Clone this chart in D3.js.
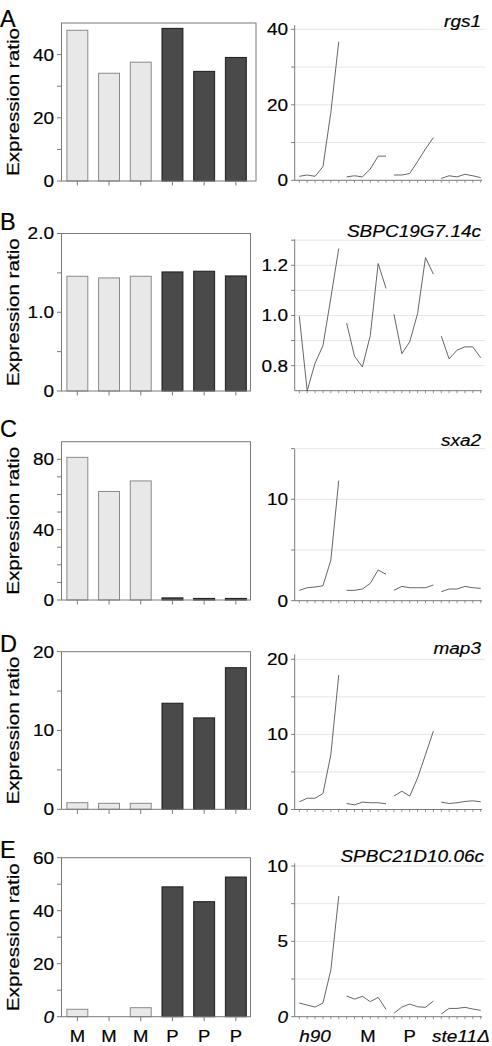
<!DOCTYPE html>
<html><head><meta charset="utf-8">
<script src="https://cdn.jsdelivr.net/npm/d3@7"></script>
<style>
html,body{margin:0;padding:0;background:#fff;}
svg{display:block;font-family:"Liberation Sans",Arial,sans-serif;}
svg text{fill:#000;stroke:#000;stroke-width:0.2px;}
</style></head>
<body>
<svg id="chart" width="492" height="1046"></svg>
<script>
// ---------- data ----------
const barCategories = ["M","M","M","P","P","P"];
const barA = [47.7, 34.1, 37.6, 48.3, 34.7, 39.1];
const barB = [1.457, 1.436, 1.457, 1.512, 1.521, 1.461];
const barC = [81.1, 61.7, 67.7, 1.2, 0.9, 0.9];
const barD = [0.84, 0.76, 0.76, 13.46, 11.6, 17.97];
const barE = [2.8, 0, 3.4, 49.0, 43.4, 52.7];

const lineGroups = ["h90","M","P","ste11Δ"];
const lineA = [1.06,1.4,1.06,3.6,18,36.7, 0.9,1.2,0.9,3.0,6.4,6.4, 1.4,1.4,1.8,5.0,8.3,11.3, 0.5,1.2,0.9,1.6,1.2,0.7];
const lineB = [0.997,0.70,0.81,0.88,1.07,1.267, 0.97,0.838,0.795,0.92,1.207,1.108, 1.005,0.848,0.895,1.008,1.231,1.165, 0.918,0.827,0.862,0.875,0.875,0.832];
const lineC = [1.02,1.28,1.35,1.48,4.0,11.84, 1.02,1.02,1.15,1.71,3.03,2.6, 1.02,1.41,1.28,1.28,1.28,1.55, 0.89,1.15,1.15,1.41,1.28,1.22];
const lineD = [1.02,1.5,1.5,2.13,7.3,17.9, 0.8,0.62,0.98,0.9,0.9,0.76, 1.78,2.44,1.78,4.2,7.3,10.44, 0.98,0.8,0.9,1.07,1.16,1.02];
const lineE = [0.91,0.77,0.64,0.91,3.1,8.0, 1.37,1.17,1.35,1.0,1.28,0.49, 0.22,0.64,0.84,0.66,0.62,1.04, 0.18,0.55,0.55,0.62,0.51,0.42];

const geneNames = ["rgs1","SBPC19G7.14c","sxa2","map3","SPBC21D10.06c"];
const panelLetters = ["A","B","C","D","E"];

const barTicksA = [0,20,40], barMinorA = [10,30];
const barTicksB = [0,1,2], barMinorB = [0.5,1.5];
const barTicksC = [0,40,80], barMinorC = [10,20,30,50,60,70];
const barTicksD = [0,10,20], barMinorD = [5,15];
const barTicksE = [0,20,40,60], barMinorE = [10,30,50];

const lineTicksA = [0,20,40], lineGridA = [10,20,30,40];
const lineTicksB = [0.8,1.0,1.2], lineGridB = [0.8,0.9,1.0,1.1,1.2,1.3];
const lineTicksC = [0,10], lineGridC = [5,10,15];
const lineTicksD = [0,10,20], lineGridD = [5,10,15,20];
const lineTicksE = [0,5,10], lineGridE = [2.5,5,7.5,10];

// ---------- layout ----------
const rows = [
  {bars:barA, bDom:[0,50], bTop:23, bBot:181, bRight:256, bTicks:barTicksA, bMinor:barMinorA, bFmt:d3.format("d"),
   line:lineA, lDom:[0,40], lR:[180.3,29.3], lTop:25, lBot:180.3, lTicks:lineTicksA, lGrid:lineGridA, lFmt:d3.format("d"),
   letterY:26.7, titleY:26.7, italicZero:false},
  {bars:barB, bDom:[0,2], bTop:233.5, bBot:391, bRight:250.5, bTicks:barTicksB, bMinor:barMinorB, bFmt:d=>d===0?"0":d3.format(".1f")(d),
   line:lineB, lDom:[0.8,1.2], lR:[365.7,265.3], lTop:239.3, lBot:390.7, lTicks:lineTicksB, lGrid:lineGridB, lFmt:d3.format(".1f"),
   letterY:230, titleY:236.7, italicZero:false},
  {bars:barC, bDom:[0,90], bTop:441.7, bBot:600, bRight:250.5, bTicks:barTicksC, bMinor:barMinorC, bFmt:d3.format("d"),
   line:lineC, lDom:[0,10], lR:[600.7,499.3], lTop:449, lBot:600.7, lTicks:lineTicksC, lGrid:lineGridC, lFmt:d3.format("d"),
   letterY:436.7, titleY:446, italicZero:false},
  {bars:barD, bDom:[0,20], bTop:651.7, bBot:809.3, bRight:250.5, bTicks:barTicksD, bMinor:barMinorD, bFmt:d3.format("d"),
   line:lineD, lDom:[0,20], lR:[809.5,659.3], lTop:654.3, lBot:809.5, lTicks:lineTicksD, lGrid:lineGridD, lFmt:d3.format("d"),
   letterY:651.7, titleY:654, italicZero:false},
  {bars:barE, bDom:[0,60], bTop:857.7, bBot:1016.7, bRight:250.5, bTicks:barTicksE, bMinor:barMinorE, bFmt:d3.format("d"),
   line:lineE, lDom:[0,10], lR:[1016.7,866], lTop:863.3, lBot:1016.7, lTicks:lineTicksE, lGrid:lineGridE, lFmt:d3.format("d"),
   letterY:858.3, titleY:861.7, italicZero:true}
];

const svg = d3.select("#chart");
const axisCol = "#7a7a7a";
const lightFill = "#e8e8e8", lightStroke = "#8a8a8a";
const darkFill = "#4a4a4a", darkStroke = "#1c1c1c";
const SY = 0.87; // vertical squash of horizontal labels as in the reference

const xBand = d3.scaleBand().domain(d3.range(barCategories.length))
  .range([61.5, 251.7]).paddingInner(0.34).paddingOuter(0.17);
const xLine = d3.scaleLinear().domain([0, 23]).range([299.3, 480.7]);
const leftX = 61.5, rightAxisX = 294.7;

rows.forEach((r, ri) => {
  const g = svg.append("g");
  g.append("text").attr("x", 0).attr("y", r.letterY).attr("font-size", 23.5)
    .text(panelLetters[ri]);

  // ----- bar panel -----
  const y = d3.scaleLinear().domain(r.bDom).range([r.bBot, r.bTop]);
  g.selectAll("rect.bar").data(r.bars).join("rect")
    .attr("x", (d,i) => xBand(i)).attr("width", xBand.bandwidth())
    .attr("y", d => y(d)).attr("height", d => y(0) - y(d))
    .attr("fill", (d,i) => barCategories[i] === "M" ? lightFill : darkFill)
    .attr("stroke", (d,i) => barCategories[i] === "M" ? lightStroke : darkStroke)
    .attr("stroke-width", 1)
    .attr("opacity", d => d > 0 ? 1 : 0);
  g.append("rect").attr("x", leftX).attr("y", r.bTop).attr("width", r.bRight - leftX).attr("height", r.bBot - r.bTop)
    .attr("fill", "none").attr("stroke", axisCol).attr("stroke-width", 1);
  g.selectAll("line.maj").data(r.bTicks.concat(r.bMinor)).join("line")
    .attr("x1", leftX - 4.5).attr("x2", leftX).attr("y1", d => y(d)).attr("y2", d => y(d))
    .attr("stroke", axisCol);
  g.selectAll("text.yl").data(r.bTicks).join("text")
    .attr("transform", d => `translate(54,${y(d)}) scale(1,${SY})`)
    .attr("dy", "0.36em")
    .attr("text-anchor", "end").attr("font-size", 19)
    .attr("font-style", d => (r.italicZero && d === 0) ? "italic" : "normal")
    .text(d => r.bFmt(d));
  g.selectAll("line.xt").data(barCategories).join("line")
    .attr("x1", (d,i) => xBand(i) + xBand.bandwidth()/2).attr("x2", (d,i) => xBand(i) + xBand.bandwidth()/2)
    .attr("y1", r.bBot).attr("y2", r.bBot + 4.5).attr("stroke", axisCol);
  const cy = (r.bTop + r.bBot) / 2;
  g.append("text").attr("transform", `translate(18.5,${cy}) rotate(-90)`)
    .attr("text-anchor", "middle").attr("font-size", 16)
    .attr("textLength", 148).attr("lengthAdjust", "spacingAndGlyphs")
    .text("Expression ratio");

  // ----- line panel -----
  const yl = d3.scaleLinear().domain(r.lDom).range(r.lR);
  g.selectAll("line.grid").data(r.lGrid).join("line")
    .attr("x1", rightAxisX).attr("x2", 485).attr("y1", d => yl(d)).attr("y2", d => yl(d))
    .attr("stroke", "#e6e6e6").attr("stroke-width", 1);
  g.selectAll("line.rt").data(r.lGrid.concat(r.lDom[0] === 0 ? [0] : [])).join("line")
    .attr("x1", rightAxisX - 3.5).attr("x2", rightAxisX).attr("y1", d => yl(d)).attr("y2", d => yl(d))
    .attr("stroke", axisCol);
  g.selectAll("text.rl").data(r.lTicks).join("text")
    .attr("transform", d => `translate(288,${yl(d)}) scale(1,${SY})`)
    .attr("dy", "0.36em")
    .attr("text-anchor", "end").attr("font-size", 19)
    .attr("font-style", d => (r.italicZero && d === 0) ? "italic" : "normal")
    .text(d => r.lFmt(d));
  g.append("line").attr("x1", rightAxisX).attr("x2", rightAxisX).attr("y1", r.lTop).attr("y2", r.lBot).attr("stroke", axisCol);
  g.append("line").attr("x1", rightAxisX).attr("x2", 482).attr("y1", r.lBot).attr("y2", r.lBot).attr("stroke", axisCol);
  g.selectAll("line.xlt").data(d3.range(24)).join("line")
    .attr("x1", d => xLine(d)).attr("x2", d => xLine(d)).attr("y1", r.lBot).attr("y2", r.lBot + 2.5)
    .attr("stroke", axisCol).attr("stroke-width", 0.8);
  const lineGen = d3.line().x(d => xLine(d.i)).y(d => yl(d.v));
  lineGroups.forEach((grp, gi) => {
    const pts = r.line.slice(gi*6, gi*6+6).map((v, k) => ({i: gi*6 + k, v}));
    g.append("path").attr("d", lineGen(pts)).attr("fill", "none")
      .attr("stroke", "#555").attr("stroke-width", 0.9);
  });
  g.append("text").attr("transform", `translate(${ri === 4 ? 484 : 481},${r.titleY}) scale(1,${SY})`)
    .attr("text-anchor", "end")
    .attr("font-size", 19).attr("font-style", "italic")
    .text(geneNames[ri]);
});

svg.selectAll("text.xcat").data(barCategories).join("text")
  .attr("transform", (d,i) => `translate(${xBand(i) + xBand.bandwidth()/2},1041.7) scale(1,0.9)`)
  .attr("text-anchor", "middle").attr("font-size", 18.5).text(d => d);

const groupLabelPos = [2, 8.7, 14, 20.5];
svg.selectAll("text.gcat").data(lineGroups).join("text")
  .attr("transform", (d,i) => `translate(${xLine(groupLabelPos[i])},1041.7) scale(1,0.9)`)
  .attr("text-anchor", "middle").attr("font-size", (d) => (d === "M" || d === "P") ? 18.5 : 19)
  .attr("font-style", d => (d === "M" || d === "P") ? "normal" : "italic")
  .text(d => d);
</script>
</body></html>
